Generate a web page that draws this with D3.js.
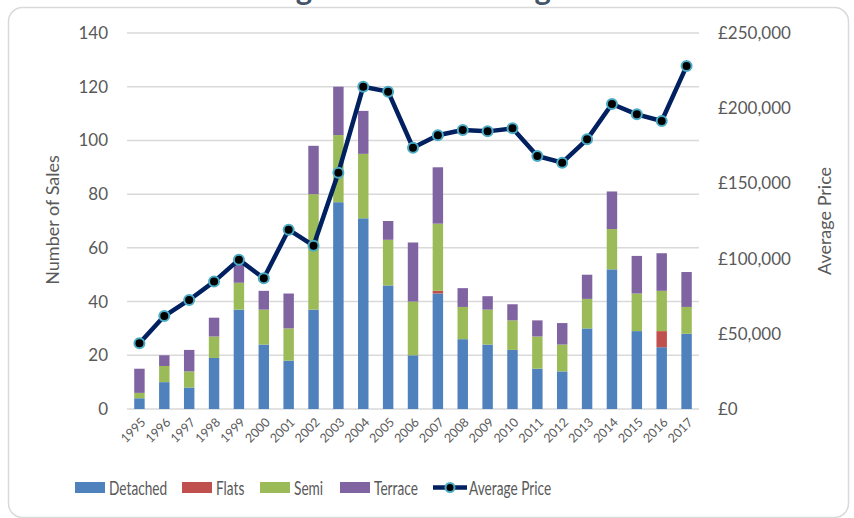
<!DOCTYPE html>
<html><head><meta charset="utf-8">
<script src="https://cdn.jsdelivr.net/npm/d3@7"></script>
<style>
html,body{margin:0;padding:0;background:#fff;}
text{font-family:Lato,"Open Sans",sans-serif;}
</style></head>
<body><svg id="c" width="854" height="518"></svg>
<script>
const years = ["1995","1996","1997","1998","1999","2000","2001","2002","2003","2004","2005","2006","2007","2008","2009","2010","2011","2012","2013","2014","2015","2016","2017"];
const detached = [4,10,8,19,37,24,18,37,77,71,46,20,43,26,24,22,15,14,30,52,29,23,28];
const flats    = [0,0,0,0,0,0,0,0,0,0,0,0,1,0,0,0,0,0,0,0,0,6,0];
const semi     = [2,6,6,8,10,13,12,43,25,24,17,20,25,12,13,11,12,10,11,15,14,15,10];
const terrace  = [9,4,8,7,7,7,13,18,18,16,7,22,21,7,5,6,6,8,9,14,14,14,13];
const avgPrice = [43700,61800,72500,84700,99300,86900,119200,108600,157100,214300,211000,173700,182000,185500,184600,186600,168200,163800,179300,202800,195900,191500,228000];
const leftTicks = [0,20,40,60,80,100,120,140];
const rightTicks = [0,50000,100000,150000,200000,250000];
const seriesNames = ["Detached","Flats","Semi","Terrace"];
const seriesColors = ["#4F81BD","#C0504D","#9BBB59","#8064A2"];
const lineName = "Average Price";
const titleText = "Housing Sales and Average Prices";

const svg = d3.select("#c");
const L = 127, R = 699, T = 33, B = 409;
const grey = "#595959";

// border
svg.append("rect").attr("x",8.5).attr("y",7.5).attr("width",840).attr("height",510)
  .attr("rx",14).attr("fill","none").attr("stroke","#D9D9D9").attr("stroke-width",1.5);
// title (mostly outside view, as in the reference)
svg.append("text").attr("x",428).attr("y",-0.5).attr("text-anchor","middle")
  .attr("font-size",31).attr("font-weight","bold").attr("fill","#44546A").text(titleText);

const x = d3.scaleBand().domain(years).range([L,R]).paddingInner(0.58).paddingOuter(0.29);
const yL = d3.scaleLinear().domain([0,140]).range([B,T]);
const yR = d3.scaleLinear().domain([0,250000]).range([B,T]);

// gridlines
svg.append("g").selectAll("line").data(leftTicks).join("line")
  .attr("x1",L).attr("x2",R).attr("y1",d=>yL(d)).attr("y2",d=>yL(d))
  .attr("stroke","#D9D9D9").attr("stroke-width",1.5);

// left axis
const axL = svg.append("g").attr("transform",`translate(${L},0)`)
  .call(d3.axisLeft(yL).tickValues(leftTicks).tickSize(0).tickPadding(19));
axL.select(".domain").remove();
axL.selectAll("text").attr("font-size",17).attr("fill",grey).attr("font-family","Lato");

// right axis
const fmt = d3.format(",");
const axR = svg.append("g").attr("transform",`translate(${R},0)`)
  .call(d3.axisRight(yR).tickValues(rightTicks).tickSize(0).tickPadding(19).tickFormat(d=>"£"+fmt(d)));
axR.select(".domain").remove();
axR.selectAll("text").attr("font-size",17).attr("fill",grey).attr("font-family","Lato");

// x axis labels
const axB = svg.append("g").attr("transform",`translate(0,${B})`)
  .call(d3.axisBottom(x).tickSize(0).tickPadding(0));
axB.select(".domain").remove();
axB.selectAll("text").attr("font-size",12.5).attr("fill",grey).attr("font-family","Lato")
  .attr("text-anchor","end").attr("dy",0)
  .attr("transform","translate(7,14) rotate(-45)");

// stacked bars
const rows = years.map((y,i)=>({year:y,Detached:detached[i],Flats:flats[i],Semi:semi[i],Terrace:terrace[i]}));
const stack = d3.stack().keys(seriesNames)(rows);
svg.append("g").selectAll("g").data(stack).join("g")
  .attr("fill",(d,i)=>seriesColors[i])
  .selectAll("rect").data(d=>d).join("rect")
  .attr("x",d=>x(d.data.year)).attr("width",x.bandwidth())
  .attr("y",d=>yL(d[1])).attr("height",d=>yL(d[0])-yL(d[1]));

// line
const cx = d=>x(d.year)+x.bandwidth()/2;
const pts = years.map((y,i)=>({year:y,v:avgPrice[i]}));
svg.append("path").datum(pts)
  .attr("d",d3.line().x(cx).y(d=>yR(d.v)))
  .attr("fill","none").attr("stroke","#002060").attr("stroke-width",4.5).attr("stroke-linejoin","round");
svg.append("g").selectAll("circle").data(pts).join("circle")
  .attr("cx",cx).attr("cy",d=>yR(d.v)).attr("r",5)
  .attr("fill","#000").attr("stroke","#4BACC6").attr("stroke-width",2);

// axis titles
svg.append("text").attr("transform","translate(59,220) rotate(-90)").attr("text-anchor","middle")
  .attr("font-size",18).attr("fill",grey).text("Number of Sales");
svg.append("text").attr("transform","translate(831,221) rotate(-90)").attr("text-anchor","middle")
  .attr("font-size",18).attr("fill",grey).text("Average Price");

// legend
const legX = [75,182,260,340];
const lg = svg.append("g");
seriesNames.forEach((n,i)=>{
  lg.append("rect").attr("x",legX[i]).attr("y",482).attr("width",30).attr("height",11).attr("fill",seriesColors[i]);
  lg.append("text").attr("transform",`translate(${legX[i]+34},494.5) scale(0.72,1)`)
    .attr("font-size",19).attr("fill",grey).text(n);
});
lg.append("line").attr("x1",433).attr("x2",467).attr("y1",487.5).attr("y2",487.5)
  .attr("stroke","#002060").attr("stroke-width",4.5);
lg.append("circle").attr("cx",450).attr("cy",487.5).attr("r",4.5).attr("fill","#000").attr("stroke","#4BACC6").attr("stroke-width",2);
lg.append("text").attr("transform","translate(469,494.5) scale(0.72,1)")
  .attr("font-size",19).attr("fill",grey).text(lineName);
</script></body></html>
